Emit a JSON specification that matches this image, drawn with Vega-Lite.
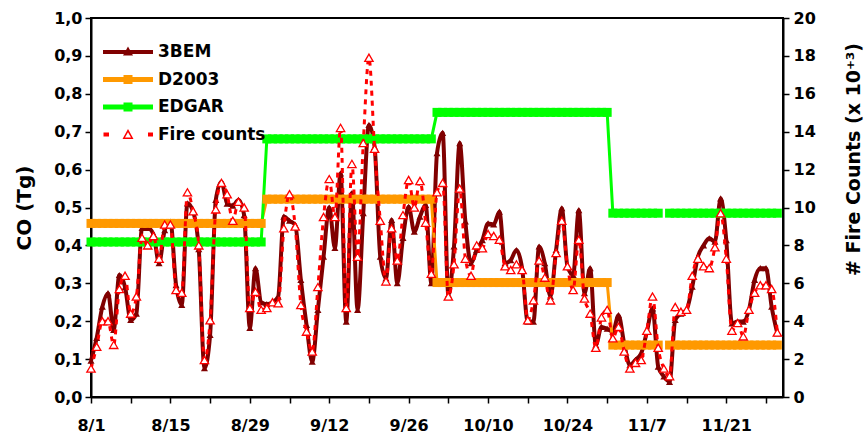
{
 "$schema": "https://vega.github.io/schema/vega-lite/v6.json",
 "width": 692, "height": 379,
 "autosize": "none",
 "padding": {"left": 91, "top": 18, "right": 81, "bottom": 38},
 "background": "white",
 "config": {
  "view": {"stroke": "black", "strokeWidth": 2},
  "font": "DejaVu Sans",
  "axis": {"domainColor": "black", "domainWidth": 2, "tickColor": "black", "tickWidth": 1.5, "tickSize": 6,
   "labelColor": "black", "labelFont": "DejaVu Sans", "labelFontSize": 16, "labelFontWeight": "bold",
   "titleFont": "DejaVu Sans", "titleFontSize": 19, "titleFontWeight": "bold", "titleColor": "black",
   "grid": false, "labelOverlap": false, "labelFlush": false}
 },
 "data": {"values": [
  {"date":"2003-08-01","3BEM":0.096,"D2003":0.458,"EDGAR":0.409,"Fire counts":1.5},
  {"date":"2003-08-02","3BEM":0.156,"D2003":0.458,"EDGAR":0.409,"Fire counts":2.65},
  {"date":"2003-08-03","3BEM":0.238,"D2003":0.458,"EDGAR":0.409,"Fire counts":4.0},
  {"date":"2003-08-04","3BEM":0.274,"D2003":0.458,"EDGAR":0.409,"Fire counts":4.0},
  {"date":"2003-08-05","3BEM":0.177,"D2003":0.458,"EDGAR":0.409,"Fire counts":2.75},
  {"date":"2003-08-06","3BEM":0.322,"D2003":0.458,"EDGAR":0.409,"Fire counts":5.7},
  {"date":"2003-08-07","3BEM":0.29,"D2003":0.458,"EDGAR":0.409,"Fire counts":6.4},
  {"date":"2003-08-08","3BEM":0.203,"D2003":0.458,"EDGAR":0.409,"Fire counts":4.4},
  {"date":"2003-08-09","3BEM":0.22,"D2003":0.458,"EDGAR":0.409,"Fire counts":5.3},
  {"date":"2003-08-10","3BEM":0.446,"D2003":0.458,"EDGAR":0.409,"Fire counts":8.4},
  {"date":"2003-08-11","3BEM":0.446,"D2003":0.458,"EDGAR":0.409,"Fire counts":8.0},
  {"date":"2003-08-12","3BEM":0.43,"D2003":0.458,"EDGAR":0.409,"Fire counts":8.5},
  {"date":"2003-08-13","3BEM":0.353,"D2003":0.458,"EDGAR":0.409,"Fire counts":7.3},
  {"date":"2003-08-14","3BEM":0.44,"D2003":0.458,"EDGAR":0.409,"Fire counts":9.1},
  {"date":"2003-08-15","3BEM":0.463,"D2003":0.458,"EDGAR":0.409,"Fire counts":9.1},
  {"date":"2003-08-16","3BEM":0.295,"D2003":0.458,"EDGAR":0.409,"Fire counts":5.65},
  {"date":"2003-08-17","3BEM":0.243,"D2003":0.458,"EDGAR":0.409,"Fire counts":5.5},
  {"date":"2003-08-18","3BEM":0.511,"D2003":0.458,"EDGAR":0.409,"Fire counts":10.8},
  {"date":"2003-08-19","3BEM":0.489,"D2003":0.458,"EDGAR":0.409,"Fire counts":9.8},
  {"date":"2003-08-20","3BEM":0.39,"D2003":0.458,"EDGAR":0.409,"Fire counts":8.0},
  {"date":"2003-08-21","3BEM":0.076,"D2003":0.458,"EDGAR":0.409,"Fire counts":1.95},
  {"date":"2003-08-22","3BEM":0.164,"D2003":0.458,"EDGAR":0.409,"Fire counts":4.05},
  {"date":"2003-08-23","3BEM":0.52,"D2003":0.458,"EDGAR":0.409,"Fire counts":9.9},
  {"date":"2003-08-24","3BEM":0.568,"D2003":0.458,"EDGAR":0.409,"Fire counts":11.3},
  {"date":"2003-08-25","3BEM":0.51,"D2003":0.458,"EDGAR":0.409,"Fire counts":10.7},
  {"date":"2003-08-26","3BEM":0.505,"D2003":0.458,"EDGAR":0.409,"Fire counts":9.3},
  {"date":"2003-08-27","3BEM":0.52,"D2003":0.458,"EDGAR":0.409,"Fire counts":10.3},
  {"date":"2003-08-28","3BEM":0.48,"D2003":0.458,"EDGAR":0.409,"Fire counts":10.0},
  {"date":"2003-08-29","3BEM":0.182,"D2003":0.458,"EDGAR":0.409,"Fire counts":4.7},
  {"date":"2003-08-30","3BEM":0.34,"D2003":0.458,"EDGAR":0.409,"Fire counts":5.55},
  {"date":"2003-08-31","3BEM":0.25,"D2003":0.458,"EDGAR":0.409,"Fire counts":4.6},
  {"date":"2003-09-01","3BEM":0.245,"D2003":0.522,"EDGAR":0.681,"Fire counts":4.7},
  {"date":"2003-09-02","3BEM":0.25,"D2003":0.522,"EDGAR":0.681,"Fire counts":5.0},
  {"date":"2003-09-03","3BEM":0.265,"D2003":0.522,"EDGAR":0.681,"Fire counts":4.95},
  {"date":"2003-09-04","3BEM":0.476,"D2003":0.522,"EDGAR":0.681,"Fire counts":8.9},
  {"date":"2003-09-05","3BEM":0.465,"D2003":0.522,"EDGAR":0.681,"Fire counts":10.7},
  {"date":"2003-09-06","3BEM":0.454,"D2003":0.522,"EDGAR":0.681,"Fire counts":9.0},
  {"date":"2003-09-07","3BEM":0.309,"D2003":0.522,"EDGAR":0.681,"Fire counts":4.85},
  {"date":"2003-09-08","3BEM":0.19,"D2003":0.522,"EDGAR":0.681,"Fire counts":3.45},
  {"date":"2003-09-09","3BEM":0.093,"D2003":0.522,"EDGAR":0.681,"Fire counts":2.4},
  {"date":"2003-09-10","3BEM":0.23,"D2003":0.522,"EDGAR":0.681,"Fire counts":5.8},
  {"date":"2003-09-11","3BEM":0.37,"D2003":0.522,"EDGAR":0.681,"Fire counts":9.5},
  {"date":"2003-09-12","3BEM":0.5,"D2003":0.522,"EDGAR":0.681,"Fire counts":11.5},
  {"date":"2003-09-13","3BEM":0.393,"D2003":0.522,"EDGAR":0.681,"Fire counts":9.5},
  {"date":"2003-09-14","3BEM":0.59,"D2003":0.522,"EDGAR":0.681,"Fire counts":14.2},
  {"date":"2003-09-15","3BEM":0.199,"D2003":0.522,"EDGAR":0.681,"Fire counts":4.7},
  {"date":"2003-09-16","3BEM":0.538,"D2003":0.522,"EDGAR":0.681,"Fire counts":12.3},
  {"date":"2003-09-17","3BEM":0.23,"D2003":0.522,"EDGAR":0.681,"Fire counts":7.4},
  {"date":"2003-09-18","3BEM":0.485,"D2003":0.522,"EDGAR":0.681,"Fire counts":13.4},
  {"date":"2003-09-19","3BEM":0.718,"D2003":0.522,"EDGAR":0.681,"Fire counts":17.9},
  {"date":"2003-09-20","3BEM":0.66,"D2003":0.522,"EDGAR":0.681,"Fire counts":13.1},
  {"date":"2003-09-21","3BEM":0.37,"D2003":0.522,"EDGAR":0.681,"Fire counts":9.3},
  {"date":"2003-09-22","3BEM":0.313,"D2003":0.522,"EDGAR":0.681,"Fire counts":6.1},
  {"date":"2003-09-23","3BEM":0.467,"D2003":0.522,"EDGAR":0.681,"Fire counts":8.9},
  {"date":"2003-09-24","3BEM":0.3,"D2003":0.522,"EDGAR":0.681,"Fire counts":7.2},
  {"date":"2003-09-25","3BEM":0.42,"D2003":0.522,"EDGAR":0.681,"Fire counts":9.6},
  {"date":"2003-09-26","3BEM":0.502,"D2003":0.522,"EDGAR":0.681,"Fire counts":11.45},
  {"date":"2003-09-27","3BEM":0.436,"D2003":0.522,"EDGAR":0.681,"Fire counts":10.0},
  {"date":"2003-09-28","3BEM":0.476,"D2003":0.522,"EDGAR":0.681,"Fire counts":11.4},
  {"date":"2003-09-29","3BEM":0.507,"D2003":0.522,"EDGAR":0.681,"Fire counts":9.2},
  {"date":"2003-09-30","3BEM":0.3,"D2003":0.522,"EDGAR":0.681,"Fire counts":6.5},
  {"date":"2003-10-01","3BEM":0.643,"D2003":0.302,"EDGAR":0.751,"Fire counts":10.8},
  {"date":"2003-10-02","3BEM":0.697,"D2003":0.302,"EDGAR":0.751,"Fire counts":11.3},
  {"date":"2003-10-03","3BEM":0.27,"D2003":0.302,"EDGAR":0.751,"Fire counts":5.3},
  {"date":"2003-10-04","3BEM":0.397,"D2003":0.302,"EDGAR":0.751,"Fire counts":7.0},
  {"date":"2003-10-05","3BEM":0.67,"D2003":0.302,"EDGAR":0.751,"Fire counts":11.0},
  {"date":"2003-10-06","3BEM":0.463,"D2003":0.302,"EDGAR":0.751,"Fire counts":7.3},
  {"date":"2003-10-07","3BEM":0.353,"D2003":0.302,"EDGAR":0.751,"Fire counts":6.4},
  {"date":"2003-10-08","3BEM":0.388,"D2003":0.302,"EDGAR":0.751,"Fire counts":8.0},
  {"date":"2003-10-09","3BEM":0.414,"D2003":0.302,"EDGAR":0.751,"Fire counts":7.85},
  {"date":"2003-10-10","3BEM":0.458,"D2003":0.302,"EDGAR":0.751,"Fire counts":8.6},
  {"date":"2003-10-11","3BEM":0.455,"D2003":0.302,"EDGAR":0.751,"Fire counts":8.5},
  {"date":"2003-10-12","3BEM":0.489,"D2003":0.302,"EDGAR":0.751,"Fire counts":8.3},
  {"date":"2003-10-13","3BEM":0.353,"D2003":0.302,"EDGAR":0.751,"Fire counts":6.9},
  {"date":"2003-10-14","3BEM":0.361,"D2003":0.302,"EDGAR":0.751,"Fire counts":6.7},
  {"date":"2003-10-15","3BEM":0.388,"D2003":0.302,"EDGAR":0.751,"Fire counts":7.0},
  {"date":"2003-10-16","3BEM":0.34,"D2003":0.302,"EDGAR":0.751,"Fire counts":6.7},
  {"date":"2003-10-17","3BEM":0.199,"D2003":0.302,"EDGAR":0.751,"Fire counts":4.05},
  {"date":"2003-10-18","3BEM":0.199,"D2003":0.302,"EDGAR":0.751,"Fire counts":5.1},
  {"date":"2003-10-19","3BEM":0.397,"D2003":0.302,"EDGAR":0.751,"Fire counts":7.2},
  {"date":"2003-10-20","3BEM":0.353,"D2003":0.302,"EDGAR":0.751,"Fire counts":6.3},
  {"date":"2003-10-21","3BEM":0.265,"D2003":0.302,"EDGAR":0.751,"Fire counts":5.1},
  {"date":"2003-10-22","3BEM":0.388,"D2003":0.302,"EDGAR":0.751,"Fire counts":7.6},
  {"date":"2003-10-23","3BEM":0.498,"D2003":0.302,"EDGAR":0.751,"Fire counts":9.3},
  {"date":"2003-10-24","3BEM":0.344,"D2003":0.302,"EDGAR":0.751,"Fire counts":6.9},
  {"date":"2003-10-25","3BEM":0.322,"D2003":0.302,"EDGAR":0.751,"Fire counts":5.65},
  {"date":"2003-10-26","3BEM":0.493,"D2003":0.302,"EDGAR":0.751,"Fire counts":8.3},
  {"date":"2003-10-27","3BEM":0.274,"D2003":0.302,"EDGAR":0.751,"Fire counts":5.2},
  {"date":"2003-10-28","3BEM":0.34,"D2003":0.302,"EDGAR":0.751,"Fire counts":4.4},
  {"date":"2003-10-29","3BEM":0.137,"D2003":0.302,"EDGAR":0.751,"Fire counts":2.6},
  {"date":"2003-10-30","3BEM":0.185,"D2003":0.302,"EDGAR":0.751,"Fire counts":4.2},
  {"date":"2003-10-31","3BEM":0.18,"D2003":0.302,"EDGAR":0.751,"Fire counts":4.6},
  {"date":"2003-11-01","3BEM":0.172,"D2003":0.137,"EDGAR":0.485,"Fire counts":3.1},
  {"date":"2003-11-02","3BEM":0.216,"D2003":0.137,"EDGAR":0.485,"Fire counts":3.7},
  {"date":"2003-11-03","3BEM":0.141,"D2003":0.137,"EDGAR":0.485,"Fire counts":2.4},
  {"date":"2003-11-04","3BEM":0.084,"D2003":0.137,"EDGAR":0.485,"Fire counts":1.5},
  {"date":"2003-11-05","3BEM":0.098,"D2003":0.137,"EDGAR":0.485,"Fire counts":1.8},
  {"date":"2003-11-06","3BEM":0.115,"D2003":0.137,"EDGAR":0.485,"Fire counts":1.95},
  {"date":"2003-11-07","3BEM":0.172,"D2003":0.137,"EDGAR":0.485,"Fire counts":3.5},
  {"date":"2003-11-08","3BEM":0.234,"D2003":0.137,"EDGAR":0.485,"Fire counts":5.3},
  {"date":"2003-11-09","3BEM":0.08,"D2003":0.137,"EDGAR":0.485,"Fire counts":2.6},
  {"date":"2003-11-10","3BEM":0.054,"D2003":null,"EDGAR":null,"Fire counts":1.5},
  {"date":"2003-11-11","3BEM":0.04,"D2003":0.137,"EDGAR":0.485,"Fire counts":1.1},
  {"date":"2003-11-12","3BEM":0.203,"D2003":0.137,"EDGAR":0.485,"Fire counts":4.75},
  {"date":"2003-11-13","3BEM":0.22,"D2003":0.137,"EDGAR":0.485,"Fire counts":4.5},
  {"date":"2003-11-14","3BEM":0.23,"D2003":0.137,"EDGAR":0.485,"Fire counts":4.6},
  {"date":"2003-11-15","3BEM":0.291,"D2003":0.137,"EDGAR":0.485,"Fire counts":6.4},
  {"date":"2003-11-16","3BEM":0.37,"D2003":0.137,"EDGAR":0.485,"Fire counts":7.3},
  {"date":"2003-11-17","3BEM":0.4,"D2003":0.137,"EDGAR":0.485,"Fire counts":6.9},
  {"date":"2003-11-18","3BEM":0.419,"D2003":0.137,"EDGAR":0.485,"Fire counts":6.8},
  {"date":"2003-11-19","3BEM":0.41,"D2003":0.137,"EDGAR":0.485,"Fire counts":7.9},
  {"date":"2003-11-20","3BEM":0.524,"D2003":0.137,"EDGAR":0.485,"Fire counts":9.7},
  {"date":"2003-11-21","3BEM":0.414,"D2003":0.137,"EDGAR":0.485,"Fire counts":7.3},
  {"date":"2003-11-22","3BEM":0.194,"D2003":0.137,"EDGAR":0.485,"Fire counts":3.5},
  {"date":"2003-11-23","3BEM":0.199,"D2003":0.137,"EDGAR":0.485,"Fire counts":3.9},
  {"date":"2003-11-24","3BEM":0.199,"D2003":0.137,"EDGAR":0.485,"Fire counts":3.2},
  {"date":"2003-11-25","3BEM":0.23,"D2003":0.137,"EDGAR":0.485,"Fire counts":4.6},
  {"date":"2003-11-26","3BEM":0.309,"D2003":0.137,"EDGAR":0.485,"Fire counts":5.5},
  {"date":"2003-11-27","3BEM":0.34,"D2003":0.137,"EDGAR":0.485,"Fire counts":5.9},
  {"date":"2003-11-28","3BEM":0.34,"D2003":0.137,"EDGAR":0.485,"Fire counts":5.9},
  {"date":"2003-11-29","3BEM":0.238,"D2003":0.137,"EDGAR":0.485,"Fire counts":5.7},
  {"date":"2003-11-30","3BEM":0.168,"D2003":0.137,"EDGAR":0.485,"Fire counts":3.4}
 ]},
 "encoding": {
  "x": {"field": "date", "type": "temporal",
   "scale": {"type": "utc", "domain": [{"year": 2003, "month": 8, "date": 1, "utc": true}, {"year": 2003, "month": 12, "date": 1, "utc": true}]},
   "axis": {"title": null, "labelPadding": 14,
    "values": [
     {"year":2003,"month":8,"date":1,"utc":true},{"year":2003,"month":8,"date":8,"utc":true},
     {"year":2003,"month":8,"date":15,"utc":true},{"year":2003,"month":8,"date":22,"utc":true},
     {"year":2003,"month":8,"date":29,"utc":true},{"year":2003,"month":9,"date":5,"utc":true},
     {"year":2003,"month":9,"date":12,"utc":true},{"year":2003,"month":9,"date":19,"utc":true},
     {"year":2003,"month":9,"date":26,"utc":true},{"year":2003,"month":10,"date":3,"utc":true},
     {"year":2003,"month":10,"date":10,"utc":true},{"year":2003,"month":10,"date":17,"utc":true},
     {"year":2003,"month":10,"date":24,"utc":true},{"year":2003,"month":10,"date":31,"utc":true},
     {"year":2003,"month":11,"date":7,"utc":true},{"year":2003,"month":11,"date":14,"utc":true},
     {"year":2003,"month":11,"date":21,"utc":true},{"year":2003,"month":11,"date":28,"utc":true}
    ],
    "labelExpr": "(round((datum.value - utc(2003,7,1)) / 86400000) % 14) === 0 ? utcFormat(datum.value, '%-m/%-d') : ''"
   }
  }
 },
 "layer": [
  {
   "transform": [{"fold": ["3BEM", "D2003", "EDGAR"], "as": ["series", "v"]}],
   "encoding": {
    "y": {"field": "v", "type": "quantitative", "scale": {"domain": [0, 1], "nice": false},
     "axis": {"title": "CO (Tg)", "values": [0,0.1,0.2,0.3,0.4,0.5,0.6,0.7,0.8,0.9,1.0],
      "labelExpr": "replace(format(datum.value, '.1f'), '.', ',')", "labelPadding": 3,
      "titleFontSize": 20, "titleX": -67, "titleBaseline": "middle", "titleAlign": "center"}},
    "color": {"field": "series", "type": "nominal",
     "scale": {"domain": ["3BEM", "D2003", "EDGAR", "Fire counts"], "range": ["#800000", "#FF9900", "#00FF00", "#FF0000"]},
     "legend": {"orient": "none", "legendX": 27, "legendY": 24, "title": null, "padding": 0,
      "labelFont": "DejaVu Sans", "labelFontSize": 17, "labelFontWeight": "bold", "labelColor": "black",
      "symbolSize": 400, "labelOffset": 20, "rowPadding": 9.5,
      "encode": {"symbols": {"update": {
       "shape": {"signal": "datum.value === '3BEM' ? 'M-2.5,-0.2H2.5V0.2H-2.5Z M0,-0.55L0.5,0.35L-0.5,0.35Z' : (datum.value === 'Fire counts' ? 'M-2.45,-0.2H-1.9V0.2H-2.45Z M2.0,-0.2H2.5V0.2H2.0Z M0,-0.55L0.55,0.45L-0.55,0.45Z M0,-0.22L-0.3,0.3L0.3,0.3Z' : 'M-2.5,-0.25H2.5V0.25H-2.5Z M-0.45,-0.45H0.45V0.45H-0.45Z')"},
       "fill": {"scale": "color", "field": "value"},
       "stroke": {"value": "transparent"},
       "strokeWidth": {"value": 0},
       "opacity": {"value": 1},
       "fillOpacity": {"value": 1}
      }}}
     }}
   },
   "layer": [
    {"transform": [{"filter": "datum.series === '3BEM'"}], "mark": {"type": "line", "strokeWidth": 4, "interpolate": "monotone"}},
    {"transform": [{"filter": "datum.series === '3BEM'"}], "mark": {"type": "point", "shape": "triangle-up", "filled": true, "size": 50, "opacity": 1}},
    {"transform": [{"filter": "datum.series !== '3BEM'"}], "mark": {"type": "line", "strokeWidth": 3, "invalid": "break-paths-filter-domains"}},
    {"transform": [{"filter": "datum.series !== '3BEM' && isValid(datum.v)"}], "mark": {"type": "square", "size": 81, "opacity": 1}}
   ]
  },
  {
   "encoding": {
    "y": {"field": "Fire counts", "type": "quantitative", "scale": {"domain": [0, 20], "nice": false},
     "axis": {"orient": "right", "title": "# Fire Counts (x 10⁺³)", "values": [0,2,4,6,8,10,12,14,16,18,20], "format": "d",
      "labelPadding": 4, "titleAngle": 270, "titleX": 70, "titleY": 141, "titleBaseline": "middle", "titleAlign": "center"}}
   },
   "layer": [
    {"mark": {"type": "line", "color": "#FF0000", "strokeWidth": 3, "strokeDash": [5, 5], "interpolate": "monotone"}},
    {"mark": {"type": "point", "shape": "triangle-up", "filled": true, "fill": "white", "stroke": "#FF0000", "strokeWidth": 1.3, "size": 70, "opacity": 1}}
   ]
  }
 ],
 "resolve": {"scale": {"y": "independent"}}
}
